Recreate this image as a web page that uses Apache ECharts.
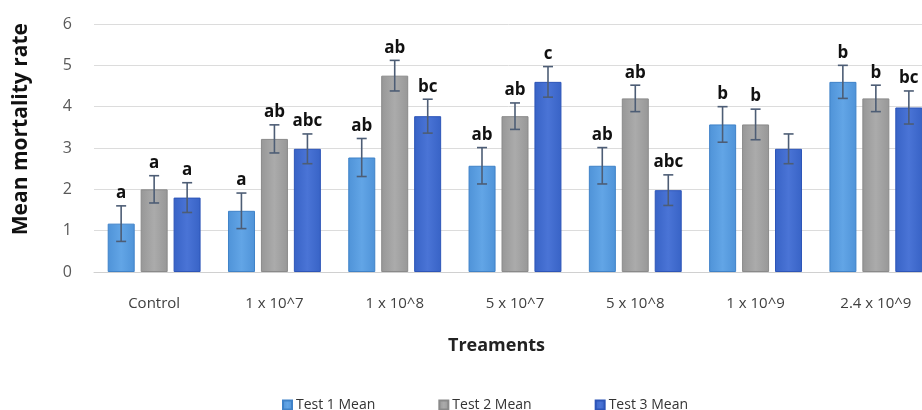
<!DOCTYPE html>
<html>
<head>
<meta charset="utf-8">
<script src="https://cdn.jsdelivr.net/npm/echarts@6/dist/echarts.min.js"></script>
<style>
html,body{margin:0;padding:0;background:#fff;}
#chart{width:922px;height:410px;}
</style>
</head>
<body>
<div id="chart"></div>
<script>
var categories = ['Control', '1 x 10^7', '1 x 10^8', '5 x 10^7', '5 x 10^8', '1 x 10^9', '2.4 x 10^9'];
var seriesNames = ['Test 1 Mean', 'Test 2 Mean', 'Test 3 Mean'];
var test1Mean = [1.17, 1.48, 2.77, 2.57, 2.57, 3.57, 4.6];
var test2Mean = [2.0, 3.22, 4.75, 3.77, 4.2, 3.57, 4.2];
var test3Mean = [1.8, 2.98, 3.77, 4.6, 1.98, 2.98, 3.98];
var test1Err = [0.43, 0.43, 0.46, 0.44, 0.44, 0.43, 0.4];
var test2Err = [0.33, 0.34, 0.37, 0.32, 0.32, 0.37, 0.32];
var test3Err = [0.36, 0.36, 0.41, 0.37, 0.37, 0.36, 0.4];
var test1Letters = ['a', 'a', 'ab', 'ab', 'ab', 'b', 'b'];
var test2Letters = ['a', 'ab', 'ab', 'ab', 'ab', 'b', 'b'];
var test3Letters = ['a', 'abc', 'bc', 'c', 'abc', '', 'bc'];
var yTicks = [0, 1, 2, 3, 4, 5, 6];

var means = [test1Mean, test2Mean, test3Mean];
var errs = [test1Err, test2Err, test3Err];
var letters = [test1Letters, test2Letters, test3Letters];

var FONT = '"Open Sans", "Noto Sans", sans-serif';
var BAR_W = 27, BAR_STEP = 33;

function grad(c1, c2) {
  return new echarts.graphic.LinearGradient(0, 0, 1, 0, [
    {offset: 0, color: c1}, {offset: 0.5, color: c2}, {offset: 1, color: c1}
  ]);
}
var fills = [grad('#4f93d8', '#62a5e6'), grad('#979797', '#ababab'), grad('#3863c6', '#4a74d6')];
var borders = ['#3f82c8', '#8a8a8a', '#2d55b8'];

var series = [];
for (var s = 0; s < 3; s++) {
  series.push({
    name: seriesNames[s],
    type: 'bar',
    data: means[s],
    barWidth: BAR_W,
    barGap: '22%',
    itemStyle: {color: fills[s], borderColor: borders[s], borderWidth: 1},
    emphasis: {disabled: true},
    z: 2
  });
}
for (var s2 = 0; s2 < 3; s2++) {
  (function (si) {
    var d = [];
    for (var i = 0; i < categories.length; i++) {
      d.push([i, means[si][i], errs[si][i]]);
    }
    series.push({
      type: 'custom',
      name: 'err' + si,
      data: d,
      z: 5,
      encode: {x: 0, y: 1},
      renderItem: function (params, api) {
        var x = api.value(0), m = api.value(1), e = api.value(2);
        var lab = letters[si][params.dataIndex];
        var off = (si - 1) * BAR_STEP;
        var top = api.coord([x, m + e]);
        var bot = api.coord([x, m - e]);
        var cx = top[0] + off;
        var st = {stroke: '#4d5d75', lineWidth: 1.6};
        var children = [
          {type: 'line', shape: {x1: cx, y1: top[1], x2: cx, y2: bot[1]}, style: st},
          {type: 'line', shape: {x1: cx - 5, y1: top[1], x2: cx + 5, y2: top[1]}, style: st},
          {type: 'line', shape: {x1: cx - 5, y1: bot[1], x2: cx + 5, y2: bot[1]}, style: st}
        ];
        if (lab) {
          children.push({type: 'text', x: cx, y: top[1] - 4, style: {
            text: lab, textAlign: 'center', textVerticalAlign: 'bottom',
            font: 'bold 17px ' + FONT, fill: '#111'
          }});
        }
        return {type: 'group', children: children};
      }
    });
  })(s2);
}

var chart = echarts.init(document.getElementById('chart'), null, {renderer: 'canvas'});
chart.setOption({
  animation: false,
  backgroundColor: '#ffffff',
  textStyle: {fontFamily: FONT},
  grid: {left: 94, width: 842, top: 24, height: 248, containLabel: false, outerBoundsMode: 'none'},
  legend: {
    data: seriesNames,
    left: 277, top: 393,
    itemWidth: 9, itemHeight: 9, itemGap: 63, icon: 'rect',
    textStyle: {fontSize: 14, color: '#333', fontFamily: FONT, padding: [0, 0, 0, -1]}
  },
  xAxis: {
    type: 'category',
    data: categories,
    axisLine: {lineStyle: {color: '#d0d0d0'}},
    axisTick: {show: false},
    axisLabel: {fontSize: 15, color: '#404040', margin: 24, fontFamily: FONT, interval: 0}
  },
  yAxis: {
    type: 'value',
    min: yTicks[0], max: yTicks[yTicks.length - 1], interval: 1,
    axisLine: {show: false},
    axisTick: {show: false},
    splitLine: {lineStyle: {color: '#dcdcdc', width: 1}},
    axisLabel: {fontSize: 16, color: '#595959', margin: 22, fontFamily: FONT}
  },
  graphic: [
    {type: 'text', left: 11, top: 23, rotation: Math.PI / 2, style: {
      text: 'Mean mortality rate', font: 'bold 21px ' + FONT, fill: '#111'}},
    {type: 'text', left: 448, top: 337, style: {
      text: 'Treaments', font: 'bold 18px ' + FONT, fill: '#222'}}
  ],
  series: series
});
</script>
</body>
</html>
